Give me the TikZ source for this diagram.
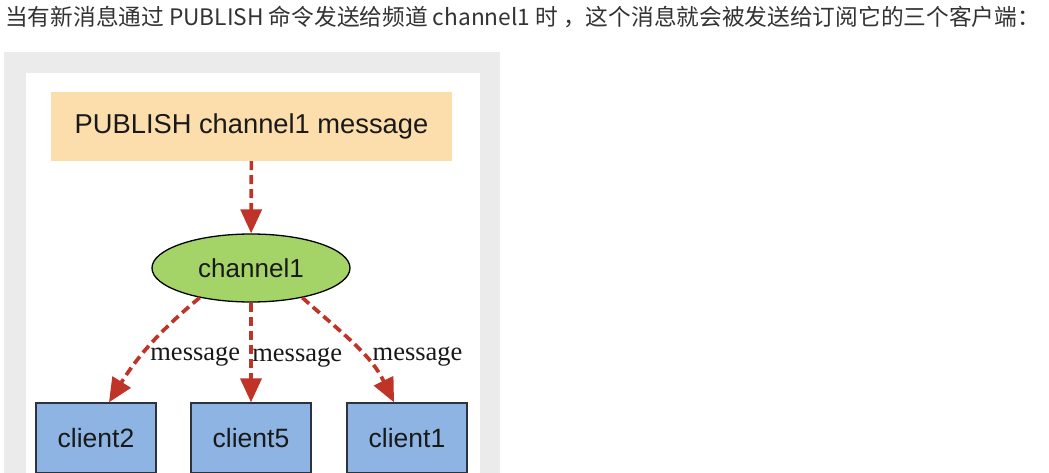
\documentclass[tikz,border=0pt]{standalone}
\usepackage{fontspec}
\setmainfont{Liberation Sans}
\newfontfamily\cjk{Noto Sans CJK SC}
\newfontfamily\msgfont{Liberation Serif}
\usetikzlibrary{shapes.geometric,arrows.meta}
\definecolor{titletext}{RGB}{51,51,51}
\definecolor{panelgray}{RGB}{235,235,235}
\definecolor{pubfill}{RGB}{252,221,172}
\definecolor{chfill}{RGB}{164,212,104}
\definecolor{clfill}{RGB}{141,180,226}
\definecolor{clline}{RGB}{45,50,60}
\definecolor{subred}{RGB}{192,52,40}
\definecolor{nodetext}{RGB}{25,25,25}
\begin{document}
\begin{tikzpicture}[x=1pt,y=1pt,
  clbox/.style={draw=clline, line width=1.3pt, fill=clfill, minimum width=120pt, minimum height=70pt, inner sep=0pt, text=nodetext, font=\fontsize{26.5}{30}\selectfont},
  sub/.style={draw=subred, line width=3.7pt, dash pattern=on 9pt off 5pt, -{Triangle[length=24pt,width=21pt]}},
  msg/.style={font=\msgfont\fontsize{26.5}{30}\selectfont, anchor=west, inner sep=1pt, text=nodetext}]
\useasboundingbox (0,0) rectangle (1049,-473);
\clip (0,0) rectangle (1049,-473);
\fill[white] (0,0) rectangle (1049,-473);
\node[anchor=west, inner sep=0pt, text=titletext, font=\cjk\fontsize{22.7}{26}\selectfont] (title) at (5,-17) {当有新消息通过 PUBLISH 命令发送给频道 channel1 时 ，这个消息就会被发送给订阅它的三个客户端：};
\fill[panelgray] (4,-52) rectangle (500,-480);
\fill[white] (26,-73) rectangle (480,-480);
\node[fill=pubfill, minimum width=401pt, minimum height=69pt, inner sep=0pt, text=nodetext, font=\fontsize{27.3}{30}\selectfont] (pub) at (251.5,-126.5) {PUBLISH channel1 message};
\node[ellipse, draw=black, line width=1.3pt, fill=chfill, minimum width=198pt, minimum height=68pt, inner sep=0pt, text=nodetext, font=\fontsize{26}{30}\selectfont] (ch) at (251,-268) {channel1};
\node[clbox] (cl2) at (96,-438) {client2};
\node[clbox] (cl5) at (251,-438) {client5};
\node[clbox] (cl1) at (407,-438) {client1};
\draw[sub] (pub) -- (ch);
\draw[sub] (ch.-150) to[out=-140,in=58] node[msg, pos=.61, xshift=7pt] (m2) {message} (cl2.70);
\draw[sub] (ch) -- node[msg, pos=.555, xshift=-1.5pt] (m5) {message} (cl5);
\draw[sub] (ch.-30) to[out=-42,in=116] node[msg, pos=.62, xshift=5pt] (m1) {message} (cl1.110);

\end{tikzpicture}
\end{document}
